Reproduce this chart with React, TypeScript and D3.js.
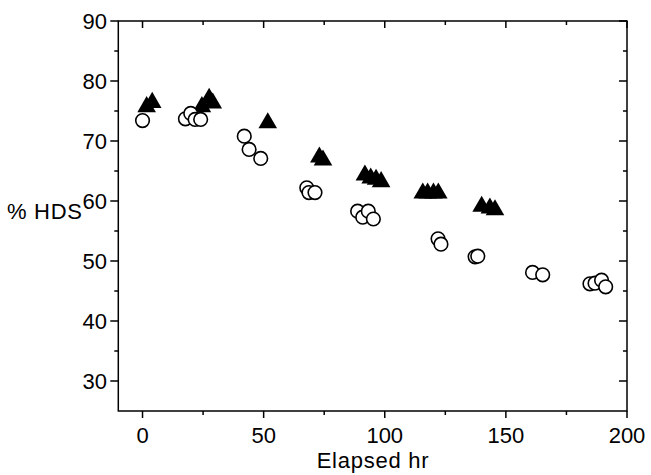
import React from "react";
import * as d3 from "d3";

const circleX = [0, 17.7, 19.9, 21.7, 24, 42, 44, 48.8, 67.8, 68.7, 71.2, 88.8, 90.9, 93.2, 95.3, 122, 123.2, 137.3, 138.4, 161, 165.2, 184.7, 186.8, 189.5, 191.2];
const circleY = [73.4, 73.7, 74.6, 73.6, 73.6, 70.8, 68.6, 67.1, 62.2, 61.4, 61.4, 58.3, 57.3, 58.3, 57, 53.7, 52.8, 50.7, 50.8, 48.1, 47.7, 46.2, 46.3, 46.8, 45.7];
const triX = [1.7, 4, 24.5, 27.5, 29, 51.7, 73, 74.5, 91.8, 94.2, 96.4, 98.5, 115.7, 117.7, 120.1, 122.1, 140, 143.4, 145.5];
const triY = [75.7, 76.4, 75.7, 77.1, 76.3, 73, 67.3, 66.8, 64.3, 63.8, 63.6, 63.2, 61.3, 61.3, 61.3, 61.3, 59.1, 58.8, 58.5];
const xTicks = [0, 50, 100, 150, 200];
const xMinor = [25, 75, 125, 175];
const yTicks = [30, 40, 50, 60, 70, 80, 90];
const yMinor = [35, 45, 55, 65, 75, 85];

export default function App() {
  const x = d3.scaleLinear().domain([-10, 200]).range([118.3, 627]);
  const y = d3.scaleLinear().domain([25, 90]).range([411, 21]);
  const [x0, x1] = x.range();
  const [y0, y1] = y.range();
  const tri = d3.symbol().type(d3.symbolTriangle).size(150)();
  const font = "Arial, 'Liberation Sans', sans-serif";
  const sw = 1.5;
  return (
    <svg width={651} height={475} style={{ position: "absolute", left: 0, top: 0 }}>
      <rect x={0} y={0} width={651} height={475} fill="white" />
      <g stroke="black" strokeWidth={sw} fill="none">
        <rect x={x0} y={y1} width={x1 - x0} height={y0 - y1} />
        {xTicks.map((t) => (
          <g key={"xt" + t}>
            <line x1={x(t)} x2={x(t)} y1={y0} y2={y0 + 7} />
            <line x1={x(t)} x2={x(t)} y1={y1} y2={y1 + 7} />
          </g>
        ))}
        {xMinor.map((t) => (
          <g key={"xm" + t}>
            <line x1={x(t)} x2={x(t)} y1={y0} y2={y0 + 4} />
            <line x1={x(t)} x2={x(t)} y1={y1} y2={y1 + 4} />
          </g>
        ))}
        {yTicks.map((t) => (
          <g key={"yt" + t}>
            <line x1={x0 - 8} x2={x0} y1={y(t)} y2={y(t)} />
            <line x1={x1 - 8} x2={x1} y1={y(t)} y2={y(t)} />
          </g>
        ))}
        {yMinor.map((t) => (
          <g key={"ym" + t}>
            <line x1={x0 - 4} x2={x0} y1={y(t)} y2={y(t)} />
            <line x1={x1 - 4} x2={x1} y1={y(t)} y2={y(t)} />
          </g>
        ))}
      </g>
      <g fontFamily={font} fontSize={22} fill="black">
        {xTicks.map((t) => (
          <text key={"xl" + t} x={x(t)} y={443} textAnchor="middle">{t}</text>
        ))}
        {yTicks.map((t) => (
          <text key={"yl" + t} x={107} y={y(t) + 8} textAnchor="end">{t}</text>
        ))}
      </g>
      <text x={(x0 + x1) / 2} y={468} textAnchor="middle" fontFamily={font} fontSize={22} textLength={112}>Elapsed hr</text>
      <text x={7} y={219} fontFamily={font} fontSize={22} textLength={75}>% HDS</text>
      <g fill="black">
        {triX.map((v, i) => (
          <path key={"t" + i} d={tri} transform={`translate(${x(v)},${y(triY[i])})`} />
        ))}
      </g>
      <g fill="white" stroke="black" strokeWidth={1.6}>
        {circleX.map((v, i) => (
          <circle key={"c" + i} cx={x(v)} cy={y(circleY[i])} r={6.8} />
        ))}
      </g>
    </svg>
  );
}
